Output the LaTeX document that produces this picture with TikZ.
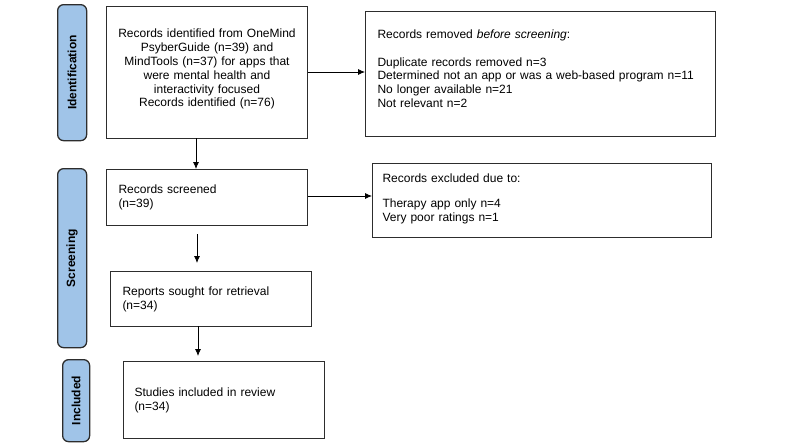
\documentclass[tikz,border=0pt]{standalone}
\usepackage{fontspec}
\setmainfont{Liberation Sans}
\usetikzlibrary{arrows.meta,calc}
\definecolor{labelblue}{RGB}{160,196,232}
\definecolor{edge}{RGB}{45,45,45}
\tikzset{
  box/.style={draw=edge, line width=1pt, anchor=north west, inner ysep=0pt,
    font=\fontsize{12}{13.8}\selectfont},
  stage/.style={draw=edge, line width=1.3pt, fill=labelblue, rounded corners=6pt,
    anchor=north west, inner sep=0pt},
  stagetext/.style={rotate=90, font=\fontsize{12}{14}\selectfont\bfseries},
  conn/.style={draw=black, line width=0.8pt, -{Latex[length=7pt,width=6pt]}}
}
\begin{document}
\begin{tikzpicture}[x=1pt,y=-1pt]
\useasboundingbox (0,0) rectangle (800,447);
% stage labels
\node[stage, minimum width=29pt, minimum height=136pt] (sid) at (57,4) {};
\node[stagetext] at (sid.center) {Identification};
\node[stage, minimum width=29pt, minimum height=179pt] (ssc) at (57,168) {};
\node[stagetext] at (ssc.center) {Screening};
\node[stage, minimum width=27pt, minimum height=82pt] (sin) at (62,359) {};
\node[stagetext] at (sin.center) {Included};
% boxes
\node[box, inner xsep=0pt, text width=201pt, minimum height=132pt, align=center] (b1) at (106,6)
 {Records identified from OneMind\\ PsyberGuide (n=39) and\\ MindTools (n=37) for apps that\\ were mental health and\\ interactivity focused\\ Records identified (n=76)\rule[-9pt]{0pt}{9pt}};
\node[box, inner xsep=12pt, text width=326pt, minimum height=125pt, align=left] (b2) at (365,11)
 {Records removed \textit{before screening}:\\[14pt]
  Duplicate records removed n=3\\
  Determined not an app or was a web-based program n=11\\
  No longer available n=21\\
  Not relevant n=2\rule[-11pt]{0pt}{11pt}};
\node[box, inner xsep=12pt, text width=177pt, minimum height=56pt, align=left] (b3) at (106,169)
 {Records screened\\ (n=39)};
\node[box, inner xsep=10pt, text width=319pt, minimum height=74pt, align=left] (b4) at (372,163)
 {Records excluded due to:\\[11pt] Therapy app only n=4\\ Very poor ratings n=1\rule[-6pt]{0pt}{6pt}};
\node[box, inner xsep=12pt, text width=177pt, minimum height=55pt, align=left] (b5) at (110,271)
 {Reports sought for retrieval\\ (n=34)};
\node[box, inner xsep=11pt, text width=179pt, minimum height=77pt, align=left] (b6) at (123,361)
 {Studies included in review\\ (n=34)};
% connectors
\draw[conn] (b1.east |- 0,72) -- (b2.west |- 0,72);
\draw[conn] (196,138) -- (196,169);
\draw[conn] (b3.east |- 0,196) -- (b4.west |- 0,196);
\draw[conn, shorten <=9pt, shorten >=8pt] (197,225) -- (197,271);
\draw[conn, shorten >=5pt] (198,326) -- (198,361);
\end{tikzpicture}
\end{document}
